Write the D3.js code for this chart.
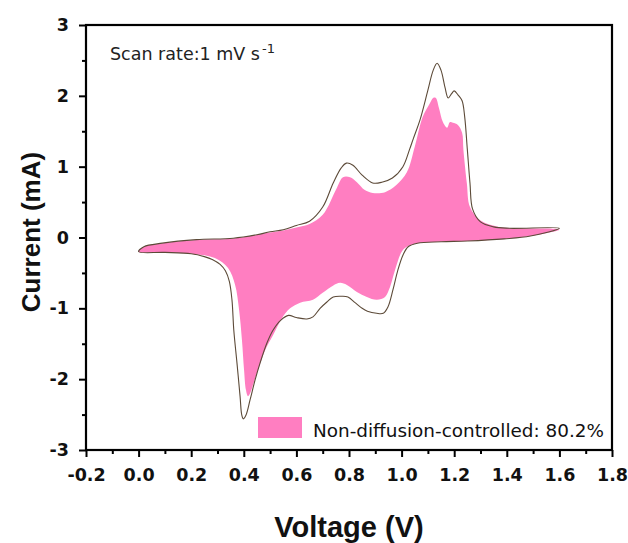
<!DOCTYPE html>
<html>
<head>
<meta charset="utf-8">
<script src="https://cdn.jsdelivr.net/npm/d3@7"></script>
<style>
  body { margin: 0; background: #fff; }
  svg { display: block; }
</style>
</head>
<body>
<div id="chart"></div>
<script>
// CV curve (total current) – anodic sweep then cathodic sweep, closed loop
var totalV = [0.00, 0.02, 0.09, 0.22, 0.36, 0.45, 0.50, 0.55, 0.60, 0.65, 0.70, 0.74, 0.77, 0.79, 0.815, 0.85, 0.89, 0.925, 0.965, 1.005,
    1.03, 1.045, 1.07, 1.10, 1.12, 1.135, 1.15, 1.165, 1.177, 1.19, 1.20, 1.215, 1.23, 1.24, 1.25, 1.26, 1.27, 1.30, 1.35, 1.41, 1.60,
    1.49, 1.39, 1.25, 1.15, 1.06, 1.025, 1.005, 0.985, 0.967, 0.948, 0.93, 0.905, 0.87, 0.85, 0.823, 0.796, 0.773, 0.74, 0.716, 0.69,
    0.663, 0.64, 0.60, 0.57, 0.54, 0.511, 0.488, 0.462, 0.443, 0.424, 0.408, 0.398, 0.392, 0.386, 0.374, 0.362, 0.355, 0.345, 0.33,
    0.31, 0.28, 0.25, 0.20, 0.10];
var totalI = [-0.20, -0.13, -0.08, -0.03, -0.01, 0.04, 0.08, 0.11, 0.17, 0.23, 0.43, 0.77, 0.98, 1.05, 1.02, 0.88, 0.77, 0.78, 0.84, 1.00,
    1.24, 1.40, 1.66, 2.08, 2.36, 2.46, 2.36, 2.12, 1.97, 2.03, 2.07, 2.01, 1.93, 1.70, 1.24, 0.77, 0.40, 0.22, 0.15, 0.13, 0.13,
    0.02, -0.02, -0.05, -0.06, -0.08, -0.13, -0.25, -0.47, -0.74, -0.98, -1.07, -1.07, -1.04, -1.00, -0.92, -0.84, -0.83, -0.84, -0.91, -1.00,
    -1.12, -1.15, -1.13, -1.10, -1.17, -1.31, -1.49, -1.77, -2.01, -2.29, -2.51, -2.56, -2.50, -2.25, -1.77, -1.31, -0.88, -0.62, -0.47,
    -0.38, -0.31, -0.27, -0.23, -0.21];

// non-diffusion-controlled (capacitive) contribution, closed loop
var capV = [0.00, 0.02, 0.09, 0.22, 0.36, 0.50, 0.55, 0.60, 0.65, 0.70, 0.755, 0.777, 0.804, 0.83, 0.86, 0.89, 0.937, 0.98, 1.02, 1.05,
    1.08, 1.108, 1.12, 1.13, 1.142, 1.157, 1.173, 1.184, 1.195, 1.214, 1.23, 1.235, 1.248, 1.26, 1.30, 1.37, 1.45, 1.59,
    1.60, 1.49, 1.39, 1.25, 1.15, 1.06, 1.025, 1.002, 0.975, 0.956, 0.937, 0.906, 0.868, 0.83, 0.792, 0.766, 0.739, 0.70, 0.663, 0.614,
    0.576, 0.545, 0.511, 0.481, 0.454, 0.435, 0.424, 0.416, 0.408, 0.401, 0.393, 0.382, 0.367, 0.34, 0.29, 0.20, 0.10];
var capI = [-0.20, -0.13, -0.08, -0.035, -0.015, 0.07, 0.10, 0.14, 0.19, 0.32, 0.71, 0.85, 0.85, 0.78, 0.67, 0.63, 0.64, 0.74, 0.92, 1.28,
    1.70, 1.90, 1.97, 1.97, 1.83, 1.63, 1.55, 1.63, 1.62, 1.59, 1.48, 1.24, 0.77, 0.43, 0.24, 0.15, 0.13, 0.12,
    0.11, 0.02, -0.02, -0.05, -0.06, -0.08, -0.12, -0.19, -0.46, -0.70, -0.84, -0.88, -0.84, -0.77, -0.67, -0.64, -0.68, -0.78, -0.88, -0.92,
    -1.00, -1.14, -1.38, -1.59, -1.87, -2.08, -2.20, -2.24, -2.15, -1.87, -1.45, -1.02, -0.67, -0.43, -0.29, -0.23, -0.21];

var xTicks = [-0.2, 0.0, 0.2, 0.4, 0.6, 0.8, 1.0, 1.2, 1.4, 1.6, 1.8];
var xMinor = [-0.1, 0.1, 0.3, 0.5, 0.7, 0.9, 1.1, 1.3, 1.5, 1.7];
var yTicks = [-3, -2, -1, 0, 1, 2, 3];
var yMinor = [-2.5, -1.5, -0.5, 0.5, 1.5, 2.5];

var legendLabel = "Non-diffusion-controlled: 80.2%";

var W = 628, H = 543;
var margin = {top: 25, right: 16, bottom: 93, left: 86};
var w = W - margin.left - margin.right,
    h = H - margin.top - margin.bottom;

var pink = "#ff7ec1";
var lineColor = "#5c4a38";

var svg = d3.select("#chart").append("svg")
    .attr("width", W)
    .attr("height", H)
    .style("font-family", "'DejaVu Sans', sans-serif");

var g = svg.append("g")
    .attr("transform", "translate(" + margin.left + "," + margin.top + ")");

var x = d3.scaleLinear().domain([-0.2, 1.8]).range([0, w]);
var y = d3.scaleLinear().domain([-3, 3]).range([h, 0]);

var curve = d3.curveCatmullRomClosed.alpha(0.5);

var capPts = capV.map(function(v, i) { return [v, capI[i]]; });
var totPts = totalV.map(function(v, i) { return [v, totalI[i]]; });

var line = d3.line()
    .x(function(d) { return x(d[0]); })
    .y(function(d) { return y(d[1]); })
    .curve(curve);

g.append("path")
    .attr("d", line(capPts))
    .style("fill", pink)
    .style("stroke", "none");

g.append("path")
    .attr("d", line(totPts))
    .style("fill", "none")
    .style("stroke", lineColor)
    .style("stroke-width", 1.1);

// axes
g.append("g")
    .attr("transform", "translate(0," + h + ")")
    .call(d3.axisBottom(x).tickValues(xTicks).tickSize(7).tickPadding(12)
        .tickFormat(function(d) { return d.toFixed(1); }));
g.append("g")
    .attr("transform", "translate(0," + h + ")")
    .call(d3.axisBottom(x).tickValues(xMinor).tickSize(4).tickFormat(""));

g.append("g")
    .call(d3.axisLeft(y).tickValues(yTicks).tickSize(7).tickPadding(10)
        .tickFormat(function(d) { return String(d); }));
g.append("g")
    .call(d3.axisLeft(y).tickValues(yMinor).tickSize(4).tickFormat(""));

g.selectAll(".domain").remove();
g.selectAll(".tick line").style("stroke", "#000").style("stroke-width", 2);
g.selectAll(".tick text")
    .style("font-family", "'DejaVu Sans', sans-serif")
    .style("font-size", "17.5px")
    .style("font-weight", "bold")
    .style("fill", "#111");

// frame
g.append("rect")
    .attr("x", 0).attr("y", 0)
    .attr("width", w).attr("height", h)
    .style("fill", "none")
    .style("stroke", "#000")
    .style("stroke-width", 2.2);

// annotation
var ann = g.append("text")
    .attr("x", 24)
    .attr("y", 35)
    .style("font-size", "17.5px")
    .style("fill", "#222");
ann.append("tspan").text("Scan rate:1 mV s");
ann.append("tspan").attr("dx", 2).attr("dy", -7).style("font-size", "13px").text("-1");

// legend
g.append("rect")
    .attr("x", 258 - margin.left)
    .attr("y", 417 - margin.top)
    .attr("width", 44)
    .attr("height", 21)
    .style("fill", pink);
g.append("text")
    .attr("x", 313 - margin.left)
    .attr("y", 437 - margin.top)
    .style("font-size", "18.4px")
    .style("fill", "#111")
    .text(legendLabel);

// axis titles
svg.append("text")
    .attr("x", margin.left + w / 2)
    .attr("y", 537)
    .attr("text-anchor", "middle")
    .style("font-family", "'Liberation Sans', Arial, sans-serif")
    .style("font-weight", "bold")
    .style("font-size", "29px")
    .style("fill", "#111")
    .text("Voltage (V)");

svg.append("text")
    .attr("transform", "translate(40,232) rotate(-90)")
    .attr("text-anchor", "middle")
    .style("font-family", "'Liberation Sans', Arial, sans-serif")
    .style("font-weight", "bold")
    .style("font-size", "26px")
    .style("fill", "#111")
    .text("Current (mA)");
</script>
</body>
</html>
